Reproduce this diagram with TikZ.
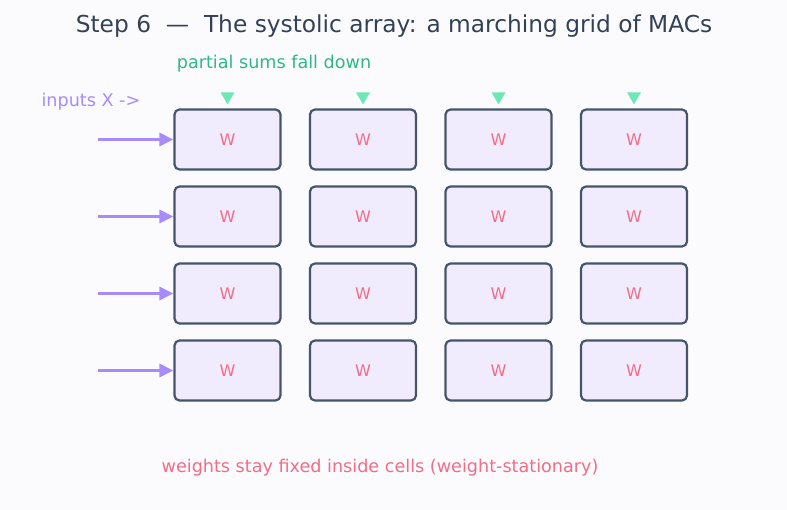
\documentclass[tikz,border=0pt]{standalone}
\usepackage{fontspec}
\setmainfont{DejaVu Sans}
\usetikzlibrary{arrows.meta}
\definecolor{bgcol}{HTML}{FBFBFE}
\definecolor{titlecol}{HTML}{334155}
\definecolor{cellborder}{HTML}{475569}
\definecolor{cellfill}{HTML}{F0ECFE}
\definecolor{wcol}{HTML}{F06E86}
\definecolor{inputcol}{HTML}{A78BFA}
\definecolor{sumcol}{HTML}{2EB886}
\definecolor{dropcol}{HTML}{6EE7B7}
\begin{document}
\begin{tikzpicture}[
        x=1pt, y=-1pt,
        cell/.style={rectangle, draw=cellborder, fill=cellfill, line width=2.2pt, rounded corners=5pt,
            minimum width=106pt, minimum height=60pt, text=wcol, font=\fontsize{16}{18}\selectfont},
        inarrow/.style={-{Triangle[length=14pt, width=13pt]}, line width=3pt, inputcol},
        lbl/.style={font=\fontsize{17.6}{20}\selectfont}
    ]
        \useasboundingbox[fill=bgcol] (0,0) rectangle (787,510);

        % Title
        \node[font=\fontsize{23.3}{27}\selectfont, text=titlecol] (title) at (394,26)
            {Step 6 \ — \ The systolic array: a marching grid of MACs};

        % Grid of MAC cells
        \foreach \i/\y in {1/139.5, 2/216.5, 3/293.5, 4/370.5} {
            \foreach \j/\x in {1/227.5, 2/363, 3/498.5, 4/634} {
                \node[cell] (c-\i-\j) at (\x,\y) {W};
            }
            % Inputs entering each row from the left
            \coordinate (in-\i) at (98,\y);
            \draw[inarrow] (in-\i) -- (c-\i-1.west);
        }

        % Partial sums dropping in at the top of each column
        \foreach \j in {1,...,4} {
            \fill[dropcol] ([shift={(-7,-16)}]c-1-\j.north) -- ([shift={(7,-16)}]c-1-\j.north)
                -- ([shift={(0,-4)}]c-1-\j.north) -- cycle;
        }

        % Labels
        \node[lbl, text=sumcol] (sums) at (274,64) {partial sums fall down};
        \node[lbl, text=inputcol, anchor=west] (inputs) at (38,102) {inputs X ->};
        \node[lbl, text=wcol] (weights) at (380,468) {weights stay fixed inside cells (weight-stationary)};
\end{tikzpicture}
\end{document}
